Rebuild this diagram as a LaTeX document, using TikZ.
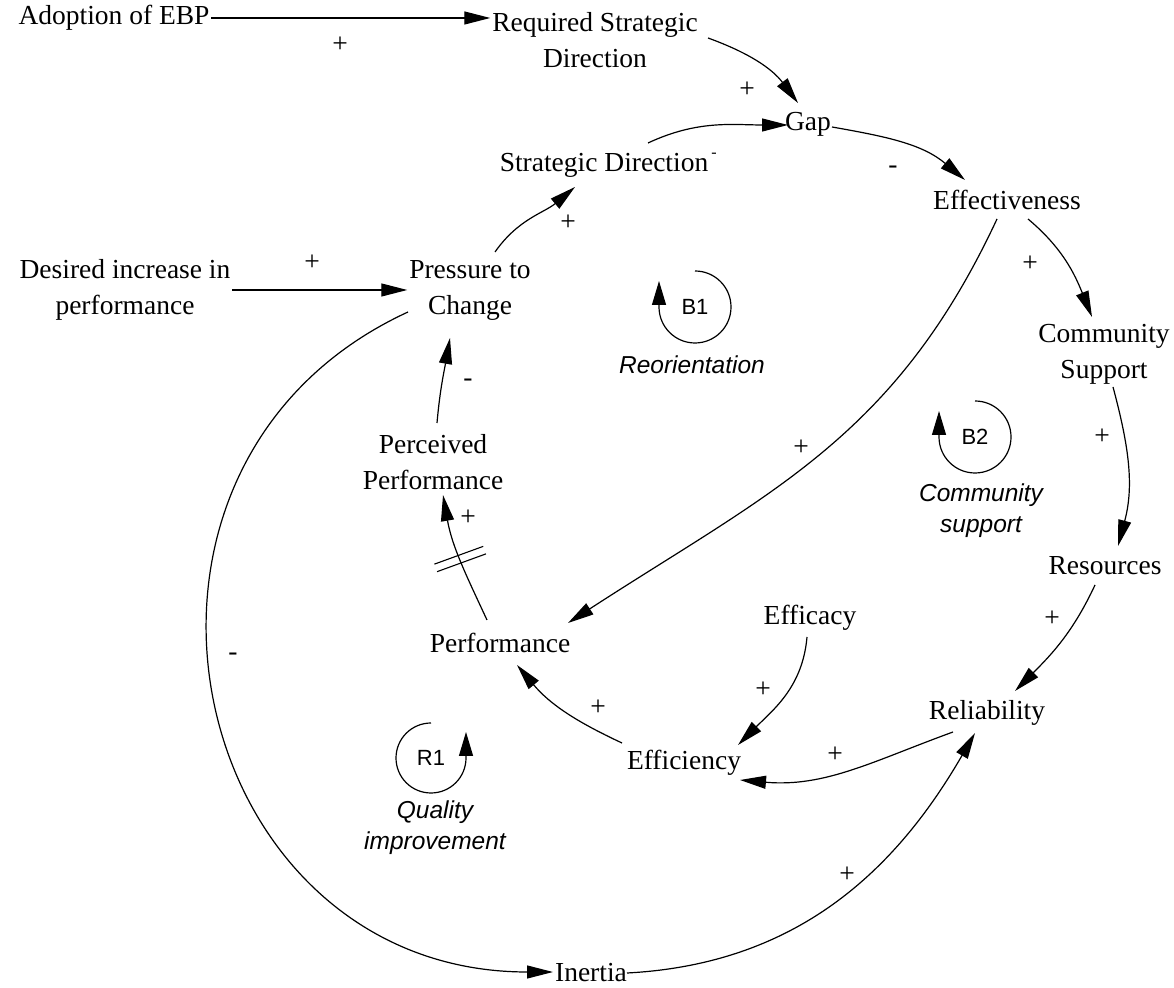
\documentclass[tikz,border=0pt]{standalone}
\usepackage{fontspec}
\setmainfont{Liberation Serif}
\newfontfamily\loopfont{Liberation Sans}
\usetikzlibrary{arrows.meta,calc}
\begin{document}
\begin{tikzpicture}[x=1pt,y=1pt,
  var/.style={inner sep=2pt, outer sep=0pt, font=\fontsize{27.5}{36}\selectfont, align=center},
  pol/.style={inner sep=0pt, font=\fontsize{27.5}{30}\selectfont},
  link/.style={line width=1.2pt, -{Triangle[length=26pt,width=13pt]}},
  loopsym/.style={line width=1.2pt, -{Triangle[length=24pt,width=14pt]}},
  looptxt/.style={inner sep=0pt, font=\loopfont\fontsize{22}{26}\selectfont},
  loopname/.style={inner sep=0pt, font=\loopfont\itshape\fontsize{24.5}{31}\selectfont, align=center},
]
\useasboundingbox[fill=white] (0,0) rectangle (1174,987);

% variables
\node[var] (adopt)    at (114,969) {Adoption of EBP};
\node[var] (req)      at (595,947) {Required Strategic\\Direction};
\node[var] (gap)      at (808,863) {Gap};
\node[var] (sd)       at (604,822) {Strategic Direction};
\node[inner sep=0pt, font=\fontsize{16}{16}\selectfont] (sdmark) at (714,832) {-};
\node[var] (eff)      at (1007,787) {Effectiveness};
\node[var] (desired)  at (125,697) {Desired increase in\\performance};
\node[var] (press)    at (470,697) {Pressure to\\Change};
\node[var] (comm)     at (1104,633) {Community\\Support};
\node[var] (perc)     at (433,525) {Perceived\\Performance};
\node[var] (res)      at (1105,421) {Resources};
\node[var] (perf)     at (500,344) {Performance};
\node[var] (efficacy) at (810,369) {Efficacy};
\node[var] (rel)      at (987,274) {Reliability};
\node[var] (effic)    at (684,224) {Efficiency};
\node[var] (inertia)  at (591,14)  {Inertia};

% links
\draw[link] (adopt.east) -- (adopt.east -| req.west);
\draw[link] ($(req)+(113,2)$) to[out=-20,in=127] ($(gap)+(-10,21)$);
\draw[link] ($(sd)+(44,22)$) to[out=25,in=180] ($(gap)+(-20,-1)$);
\draw[link] ($(gap)+(24,-3)$) to[out=-10,in=140] ($(eff)+(-42,20)$);
\draw[link] ($(press)+(25,38)$) to[out=55,in=220] ($(sd)+(-29,-22)$);
\draw[link] (desired.east) -- (desired.east -| press.west);
\draw[link] ($(eff)+(21,-19)$) to[out=-40,in=112] ($(comm)+(-12,37)$);
\draw[link] ($(eff)+(-10,-19)$) to[out=245,in=33,looseness=1.05] ($(perf)+(68,20)$);
\draw[link] ($(comm)+(9,-33)$) to[out=-75,in=75] ($(res)+(13,20)$);
\draw[link] ($(res)+(-10,-19)$) to[out=245,in=45] ($(rel)+(28,22)$);
\draw[link] ($(efficacy)+(-3,-19)$) to[out=265,in=45] ($(effic)+(54,18)$);
\draw[link] ($(rel)+(-34,-19)$) to[out=200,in=-5] ($(effic)+(56,-17)$);
\draw[link] ($(effic)+(-62,20)$) to[out=155,in=-50] ($(perf)+(17,-22)$);
\draw[link] ($(perf)+(-13,23)$) to[out=115,in=-80] coordinate[pos=0.5] (dm) ($(perc)+(10,-33)$);
\draw[link] ($(perc)+(4,39)$) to[out=85,in=-100] ($(press)+(-20,-48)$);
\draw[link] ($(press)+(-62,-22)$) to[out=204.75,in=180,looseness=1.4] ($(inertia)+(-38,1)$);
\draw[link] ($(inertia)+(36,0)$) to[out=3,in=-120] ($(rel)+(-12,-20)$);

% delay mark
\draw[line width=1.1pt] ($(dm)+(20:26)+(110:4)$) -- ($(dm)+(200:26)+(110:4)$);
\draw[line width=1.1pt] ($(dm)+(20:26)+(290:4)$) -- ($(dm)+(200:26)+(290:4)$);

% polarities
\node[pol] (p1)  at (340,942) {+};
\node[pol] (p2)  at (747,897) {+};
\node[pol] (p3)  at (893,817) {-};
\node[pol] (p4)  at (568,764) {+};
\node[pol] (p5)  at (312,724) {+};
\node[pol] (p6)  at (1030,723) {+};
\node[pol] (p7)  at (801,539) {+};
\node[pol] (p8)  at (1102,550) {+};
\node[pol] (p9)  at (1052,368) {+};
\node[pol] (p10) at (763,297) {+};
\node[pol] (p11) at (835,232) {+};
\node[pol] (p12) at (598,279) {+};
\node[pol] (p13) at (468,469) {+};
\node[pol] (p14) at (468,604) {-};
\node[pol] (p15) at (233,330) {-};
\node[pol] (p16) at (847,112) {+};

% loops
\node[looptxt] (b1) at (695,680) {B1};
\draw[loopsym] ($(b1)+(90:36)$) arc[start angle=90,end angle=-180,radius=36] -- ++(0,26);
\node[loopname] (b1n) at (692,622) {Reorientation};

\node[looptxt] (b2) at (975,550) {B2};
\draw[loopsym] ($(b2)+(90:36)$) arc[start angle=90,end angle=-180,radius=36] -- ++(0,26);
\node[loopname] (b2n) at (981,476) {Community\\support};

\node[looptxt] (r1) at (431,229) {R1};
\draw[loopsym] ($(r1)+(90:35)$) arc[start angle=90,end angle=360,radius=35] -- ++(0,26);
\node[loopname] (r1n) at (435,159) {Quality\\improvement};
\end{tikzpicture}
\end{document}
